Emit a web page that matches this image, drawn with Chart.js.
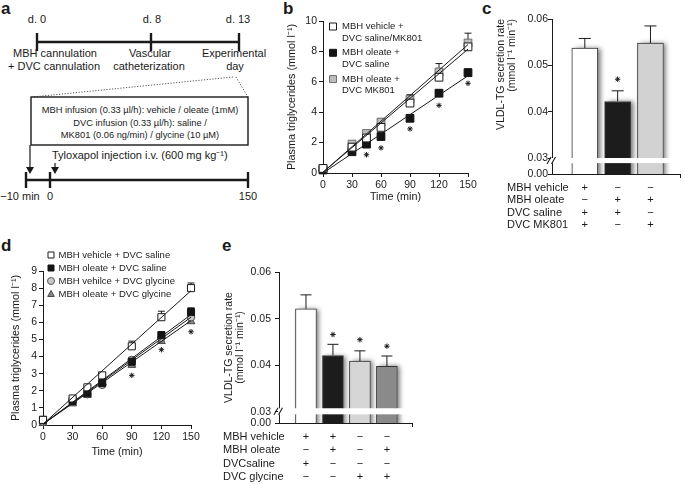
<!DOCTYPE html>
<html>
<head>
<meta charset="utf-8">
<script src="https://cdn.jsdelivr.net/npm/chart.js"></script>
<style>
  body { margin: 0; background: #fff; }
  #fig { position: relative; width: 685px; height: 484px; overflow: hidden;
         font-family: "Liberation Sans", Arial, sans-serif; color: #1a1a1a; }
  .panel { position: absolute; font-weight: bold; font-size: 17px; line-height: 17px; }
  canvas { position: absolute; }
</style>
</head>
<body>
<div id="fig">
  <!-- panel a: protocol schematic -->
  <svg width="285" height="240" style="position:absolute;left:0;top:0" font-family='"Liberation Sans", Arial, sans-serif' fill="#1a1a1a">
    <g stroke="#1a1a1a" stroke-width="2.4">
      <line x1="37" y1="42" x2="239" y2="42"/>
      <line x1="37" y1="33" x2="37" y2="51"/>
      <line x1="151" y1="33" x2="151" y2="51"/>
      <line x1="239" y1="33" x2="239" y2="51"/>
      <line x1="26" y1="180" x2="248" y2="180"/>
      <line x1="26" y1="172" x2="26" y2="188"/>
      <line x1="50" y1="172" x2="50" y2="188"/>
      <line x1="248" y1="172" x2="248" y2="188"/>
    </g>
    <g stroke="#555" stroke-width="1" stroke-dasharray="1.2 1.6">
      <line x1="233" y1="77" x2="32" y2="97"/>
      <line x1="236" y1="77" x2="248" y2="97"/>
    </g>
    <rect x="31" y="97" width="217" height="48" fill="none" stroke="#1a1a1a" stroke-width="1.4"/>
    <g stroke="#1a1a1a" stroke-width="1.2">
      <line x1="30" y1="145" x2="30" y2="168"/>
      <line x1="55" y1="163" x2="55" y2="168"/>
    </g>
    <path d="M26,167 L34,167 L30,174 Z M51,167 L59,167 L55,174 Z"/>
    <g font-size="11" text-anchor="middle" dominant-baseline="central">
      <text x="37" y="19">d. 0</text>
      <text x="152" y="19">d. 8</text>
      <text x="238" y="19">d. 13</text>
      <text x="55" y="53">MBH cannulation</text>
      <text x="54" y="66">+ DVC cannulation</text>
      <text x="150" y="53">Vascular</text>
      <text x="149" y="66">catheterization</text>
      <text x="234" y="53">Experimental</text>
      <text x="235" y="66">day</text>
      <text x="20" y="196">−10 min</text>
      <text x="50" y="196">0</text>
      <text x="248" y="196">150</text>
    </g>
    <g font-size="9.3" text-anchor="middle" dominant-baseline="central">
      <text x="140" y="110">MBH infusion (0.33 µl/h): vehicle / oleate (1mM)</text>
      <text x="140" y="123">DVC infusion (0.33 µl/h): saline /</text>
      <text x="140" y="135">MK801 (0.06 ng/min) / glycine (10 µM)</text>
    </g>
    <text x="52" y="155" font-size="11" dominant-baseline="central">Tyloxapol injection i.v. (600 mg kg⁻¹)</text>
  </svg>

  <div class="panel" style="left:1px;top:0px">a</div>
  <div class="panel" style="left:283px;top:0px">b</div>
  <div class="panel" style="left:482px;top:0px">c</div>
  <div class="panel" style="left:1px;top:237px">d</div>
  <div class="panel" style="left:222px;top:237px">e</div>

  <canvas id="chartB" width="200" height="210" style="left:280px;top:0px"></canvas>
  <canvas id="chartC" width="205" height="240" style="left:480px;top:0px"></canvas>
  <canvas id="chartD" width="220" height="230" style="left:0px;top:240px"></canvas>
  <canvas id="chartE" width="260" height="244" style="left:220px;top:240px"></canvas>
</div>

<script>
// ---- data ----
var timePoints = [0, 30, 45, 60, 90, 120, 150];
var fitX = [0, 150];

// b
var bVehicle = [0.3, 1.7, 2.3, 3.0, 4.6, 6.3, 8.3];
var bVehicleErr = [0.1, 0.15, 0.15, 0.2, 0.3, 0.35, 0.3];
var bOleate = [0.2, 1.4, 1.9, 2.4, 3.6, 5.25, 6.6];
var bOleateErr = [0.1, 0.1, 0.1, 0.15, 0.2, 0.2, 0.25];
var bMk801 = [0.3, 1.9, 2.6, 3.35, 4.85, 6.65, 8.55];
var bMk801Err = [0.1, 0.15, 0.2, 0.2, 0.3, 0.55, 0.65];
var bFitVehicle = [0.05, 8.15];
var bFitOleate = [0.0, 6.4];
var bFitMk801 = [0.05, 8.45];
var bStarX = [45, 60, 90, 120, 150];
var bStarY = [1.2, 1.65, 2.9, 4.45, 5.9];

// c
var cPos = [1, 2, 3];
var cRate = [0.0537, 0.0422, 0.0548];
var cErr = [0.0021, 0.0023, 0.0037];
var cStarPos = [2];
var cStarVal = [0.047];
var cTickVals = [0.00, 0.03, 0.04, 0.05, 0.06];
var cRows = ['MBH vehicle', 'MBH oleate', 'DVC saline', 'DVC MK801'];
var cSigns = [['+', '−', '−'], ['−', '+', '+'], ['+', '+', '−'], ['+', '−', '+']];

// d
var dVehSal = [0.3, 1.55, 2.2, 2.9, 4.6, 6.3, 8.0];
var dVehSalErr = [0.1, 0.1, 0.1, 0.15, 0.3, 0.35, 0.3];
var dOleSal = [0.3, 1.4, 1.85, 2.45, 3.7, 5.25, 6.6];
var dOleSalErr = [0.1, 0.1, 0.1, 0.1, 0.15, 0.2, 0.25];
var dVehGly = [0.2, 1.4, 1.8, 2.35, 3.8, 5.1, 6.3];
var dVehGlyErr = [0.05, 0.1, 0.1, 0.1, 0.15, 0.2, 0.2];
var dOleGly = [0.1, 1.25, 1.75, 2.5, 3.5, 4.9, 6.05];
var dOleGlyErr = [0.05, 0.1, 0.1, 0.1, 0.15, 0.2, 0.2];
var dFitVehSal = [0.05, 7.85];
var dFitOleSal = [0.05, 6.45];
var dFitVehGly = [0.05, 6.3];
var dFitOleGly = [0.05, 6.1];
var dStarX = [90, 120, 150];
var dStarY = [2.9, 4.4, 5.45];

// e
var ePos = [1, 2, 3, 4];
var eRate = [0.0521, 0.0421, 0.0409, 0.0398];
var eErr = [0.0030, 0.0024, 0.0022, 0.0022];
var eStarPos = [2, 3, 4];
var eStarVal = [0.0466, 0.0455, 0.0441];
var eTickVals = [0.00, 0.03, 0.04, 0.05, 0.06];
var eRows = ['MBH vehicle', 'MBH oleate', 'DVCsaline', 'DVC glycine'];
var eSigns = [['+', '+', '−', '−'], ['−', '+', '−', '+'], ['+', '−', '−', '−'], ['−', '−', '+', '+']];

// ---- helpers ----
var ink = '#1a1a1a';
var fontFam = '"Liberation Sans", Arial, sans-serif';

function pts(xs, ys) {
  return xs.map(function (x, i) { return { x: x, y: ys[i] }; });
}

function drawSymbol(ctx, style, x, y, r) {
  ctx.beginPath();
  if (style === 'circle') {
    ctx.arc(x, y, r, 0, Math.PI * 2);
  } else if (style === 'triangle') {
    ctx.moveTo(x, y - r);
    ctx.lineTo(x + r * 0.95, y + r * 0.7);
    ctx.lineTo(x - r * 0.95, y + r * 0.7);
    ctx.closePath();
  } else {
    ctx.rect(x - r, y - r, 2 * r, 2 * r);
  }
  ctx.fill();
  ctx.stroke();
}

// upward error bars, drawn under the markers / bars
var errorBars = {
  id: 'errorBars',
  beforeDatasetsDraw: function (chart) {
    var ctx = chart.ctx, ys = chart.scales.y;
    chart.data.datasets.forEach(function (ds, i) {
      if (!ds.errors) return;
      var meta = chart.getDatasetMeta(i);
      ctx.save();
      ctx.strokeStyle = ink;
      ctx.lineWidth = 1;
      meta.data.forEach(function (el, j) {
        var e = ds.errors[j];
        if (!e) return;
        var v = ds.data[j].y;
        var y0 = ys.getPixelForValue(v), y1 = ys.getPixelForValue(v + e);
        var w = ds.capHalf || 3.5;
        ctx.beginPath();
        ctx.moveTo(el.x, y0); ctx.lineTo(el.x, y1);
        ctx.moveTo(el.x - w, y1); ctx.lineTo(el.x + w, y1);
        ctx.stroke();
      });
      ctx.restore();
    });
  }
};

// soft shadow to the right of each bar
var barShadow = {
  id: 'barShadow',
  beforeDatasetDraw: function (chart, args) {
    if (args.meta.type !== 'bar') return;
    var ctx = chart.ctx, a = chart.chartArea;
    ctx.save();
    ctx.beginPath();
    ctx.rect(a.left, a.top - 20, a.right - a.left, a.bottom - a.top + 20);
    ctx.clip();
    ctx.shadowColor = 'rgba(0,0,0,0.55)';
    ctx.shadowBlur = 5;
    ctx.shadowOffsetX = 3;
    ctx.fillStyle = '#fff';
    args.meta.data.forEach(function (el) {
      var p = el.getProps(['x', 'y', 'base', 'width'], true);
      ctx.fillRect(p.x - p.width / 2, p.y, p.width, p.base - p.y);
    });
    ctx.restore();
  }
};

function axisBreak(top, bottom) {
  return {
    id: 'axisBreak',
    afterDatasetsDraw: function (chart) {
      var ctx = chart.ctx, ys = chart.scales.y, a = chart.chartArea;
      var yTop = ys.getPixelForValue(top), yBot = ys.getPixelForValue(bottom);
      ctx.save();
      ctx.fillStyle = '#fff';
      ctx.fillRect(a.left - 1, yTop, chart.width - a.left + 1, yBot - yTop);
      ctx.strokeStyle = ink;
      ctx.lineWidth = 1.1;
      var yc = (yTop + yBot) / 2;
      [-3, 1.5].forEach(function (dx) {
        ctx.beginPath();
        ctx.moveTo(a.left + dx - 2, yc + 3.5);
        ctx.lineTo(a.left + dx + 2, yc - 3.5);
        ctx.stroke();
      });
      ctx.restore();
    }
  };
}

function signTable(rows, signs, positions, left, top, step) {
  return {
    id: 'signTable',
    afterDraw: function (chart) {
      var ctx = chart.ctx, xs = chart.scales.x;
      ctx.save();
      ctx.font = '11px ' + fontFam;
      ctx.fillStyle = ink;
      ctx.textBaseline = 'middle';
      rows.forEach(function (name, r) {
        var y = top + r * step;
        ctx.textAlign = 'left';
        ctx.fillText(name, left, y);
        ctx.textAlign = 'center';
        signs[r].forEach(function (s, k) {
          ctx.fillText(s, xs.getPixelForValue(positions[k]), y);
        });
      });
      ctx.restore();
    }
  };
}

function innerLegend(o) {
  return {
    id: 'innerLegend',
    afterDraw: function (chart) {
      var ctx = chart.ctx, y = o.top;
      ctx.save();
      ctx.font = o.size + 'px ' + fontFam;
      ctx.textBaseline = 'middle';
      ctx.textAlign = 'left';
      chart.data.datasets.forEach(function (ds) {
        if (!ds.legendText) return;
        ctx.fillStyle = ds.backgroundColor;
        ctx.strokeStyle = ds.borderColor;
        ctx.lineWidth = 1;
        drawSymbol(ctx, ds.pointStyle, o.left, y, ds.pointStyle === 'rect' ? o.radius : o.radius + 0.5);
        ctx.fillStyle = ink;
        ds.legendText.forEach(function (line, i) {
          ctx.fillText(line, o.left + o.gap, y + i * o.lineH);
        });
        y += o.step;
      });
      ctx.restore();
    }
  };
}

function fitLine(ys) {
  return { data: pts(fitX, ys), showLine: true, pointRadius: 0, borderColor: ink, borderWidth: 1, order: 0, clip: false };
}

function markers(ys, errs, style, fill, edge, r, legend) {
  return {
    data: pts(timePoints, ys), errors: errs, legendText: legend,
    pointStyle: style, pointRadius: r, backgroundColor: fill, borderColor: edge,
    borderWidth: 1, showLine: false, order: 1, clip: false
  };
}

function stars(xs, ys) {
  return {
    data: pts(xs, ys), pointStyle: 'star', pointRadius: 2.7, showLine: false,
    backgroundColor: ink, borderColor: ink, borderWidth: 1, order: 2, clip: false
  };
}

var tickFont = { family: fontFam, size: 10.5 };
var titleFont = { family: fontFam, size: 10.8 };

function timeAxes(yMax, yTitlePad, xHeight, xTitlePad) {
  return {
    x: {
      type: 'linear', min: 0, max: 150,
      border: { color: ink, width: 1 },
      grid: { drawOnChartArea: false, tickLength: 4, color: ink },
      ticks: { stepSize: 30, color: ink, font: tickFont, padding: 2, maxRotation: 0 },
      title: { display: true, text: 'Time (min)', color: ink, font: titleFont, padding: { top: 0, bottom: xTitlePad } },
      afterFit: function (s) { s.height = xHeight; }
    },
    y: {
      type: 'linear', min: 0, max: yMax,
      border: { color: ink, width: 1 },
      grid: { drawOnChartArea: false, tickLength: 4, color: ink },
      ticks: { stepSize: 1, color: ink, font: tickFont, padding: 2 },
      title: { display: true, text: 'Plasma triglycerides (mmol l⁻¹)', color: ink, font: titleFont, padding: { top: yTitlePad, bottom: 0 } },
      afterFit: function (s) { s.width = 43; }
    }
  };
}

function rateAxes(base, tickVals, xMax, yWidth, xHeight, titlePad, titleAlign, tickPad) {
  return {
    x: {
      type: 'linear', min: 0, max: xMax, offset: false,
      border: { color: ink, width: 1 },
      grid: { offset: false, drawOnChartArea: false, tickLength: 4, color: ink },
      ticks: { display: false },
      afterBuildTicks: function (s) { s.ticks = [{ value: s.max }]; },
      afterFit: function (s) { s.height = xHeight; }
    },
    y: {
      type: 'linear', min: base, max: 0.06, beginAtZero: false,
      border: { color: ink, width: 1 },
      grid: { drawOnChartArea: false, tickLength: 4, color: ink },
      afterBuildTicks: function (s) {
        s.ticks = tickVals.map(function (v) { return { value: v === 0 ? base : v }; });
      },
      ticks: {
        color: ink, font: tickFont, padding: tickPad, autoSkip: false,
        callback: function (v) { return v < 0.029 ? '0.00' : v.toFixed(2); }
      },
      title: {
        display: true, text: ['VLDL-TG secretion rate', '(mmol l⁻¹ min⁻¹)'], align: titleAlign,
        color: ink, font: { family: fontFam, size: 10.5, lineHeight: '11px' }, padding: { top: titlePad, bottom: 0 }
      },
      afterFit: function (s) { s.width = yWidth; }
    }
  };
}

var common = {
  animation: false,
  responsive: false,
  events: [],
  plugins: { legend: { display: false }, tooltip: { enabled: false } }
};

// ---- b ----
new Chart(document.getElementById('chartB'), {
  type: 'scatter',
  data: {
    datasets: [
      fitLine(bFitMk801),
      fitLine(bFitVehicle),
      fitLine(bFitOleate),
      markers(bVehicle, bVehicleErr, 'rect', '#ffffff', ink, 5.5, ['MBH vehicle +', 'DVC saline/MK801']),
      markers(bOleate, bOleateErr, 'rect', '#141414', '#141414', 5.5, ['MBH oleate +', 'DVC saline']),
      markers(bMk801, bMk801Err, 'rect', '#bdbdbd', '#6e6e6e', 5.5, ['MBH oleate +', 'DVC MK801']),
      stars(bStarX, bStarY)
    ]
  },
  options: Object.assign({}, common, {
    layout: { padding: { top: 21, right: 12, left: 0, bottom: 0 } },
    scales: timeAxes(10, 6, 37, 6.5)
  }),
  plugins: [errorBars, innerLegend({ left: 53, top: 26.5, step: 26.3, lineH: 11.5, gap: 9, size: 9.5, radius: 3.5 })]
});

// ---- c ----
new Chart(document.getElementById('chartC'), {
  type: 'bar',
  data: {
    datasets: [
      Object.assign({ type: 'line' }, stars(cStarPos, cStarVal), { order: 0 }),
      {
        type: 'bar', data: pts(cPos, cRate), errors: cErr, capHalf: 6,
        backgroundColor: ['#ffffff', '#1c1c1c', '#d2d2d2'], borderColor: '#333', borderWidth: 1,
        barThickness: 26, order: 1
      }
    ]
  },
  options: Object.assign({}, common, {
    layout: { padding: { top: 19, right: 0, left: 0, bottom: 0 } },
    scales: rateAxes(0.02655, cTickVals, 3.9, 72, 66, 15.5, 'end', 0)
  }),
  plugins: [barShadow, errorBars, axisBreak(0.0300, 0.0289), signTable(cRows, cSigns, cPos, 27, 188, 12.4)]
});

// ---- d ----
new Chart(document.getElementById('chartD'), {
  type: 'scatter',
  data: {
    datasets: [
      fitLine(dFitVehSal),
      fitLine(dFitOleSal),
      fitLine(dFitVehGly),
      fitLine(dFitOleGly),
      markers(dVehSal, dVehSalErr, 'rect', '#ffffff', ink, 5, ['MBH vehicle + DVC saline']),
      markers(dOleSal, dOleSalErr, 'rect', '#141414', '#141414', 5, ['MBH oleate + DVC saline']),
      markers(dVehGly, dVehGlyErr, 'circle', '#c8c8c8', '#555', 3.8, ['MBH vehilce + DVC glycine']),
      markers(dOleGly, dOleGlyErr, 'triangle', '#8a8a8a', '#444', 4.5, ['MBH oleate + DVC glycine']),
      stars(dStarX, dStarY)
    ]
  },
  options: Object.assign({}, common, {
    layout: { padding: { top: 31, right: 29, left: 0, bottom: 0 } },
    scales: timeAxes(9, 9.5, 45, 11.5)
  }),
  plugins: [errorBars, innerLegend({ left: 51, top: 15, step: 13, lineH: 12, gap: 7.5, size: 9.5, radius: 3 })]
});

// ---- e ----
new Chart(document.getElementById('chartE'), {
  type: 'bar',
  data: {
    datasets: [
      Object.assign({ type: 'line' }, stars(eStarPos, eStarVal), { order: 0 }),
      {
        type: 'bar', data: pts(ePos, eRate), errors: eErr, capHalf: 5.5,
        backgroundColor: ['#ffffff', '#1c1c1c', '#d6d6d6', '#8a8a8a'], borderColor: '#333', borderWidth: 1,
        barThickness: 21, order: 1
      }
    ]
  },
  options: Object.assign({}, common, {
    layout: { padding: { top: 32, right: 68, left: 0, bottom: 0 } },
    scales: rateAxes(0.02764, eTickVals, 4.93, 59, 61, 3.5, 'center', 4)
  }),
  plugins: [barShadow, errorBars, axisBreak(0.0308, 0.0295), signTable(eRows, eSigns, ePos, 3, 197, 13.4)]
});
</script>
</body>
</html>
